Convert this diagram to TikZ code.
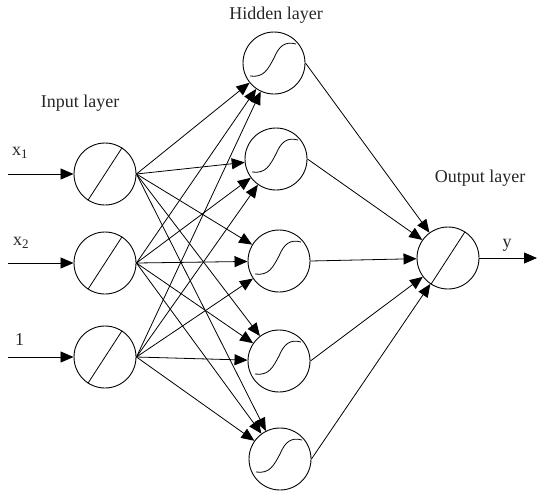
\documentclass[tikz,border=0pt]{standalone}
\usepackage{fontspec}
\setmainfont{Liberation Serif}
\usetikzlibrary{arrows.meta}
\newcommand\sigmcurve[1]{\draw[line width=0.8pt,shift={(#1.center)}] (-24,13) .. controls (-10,15) and (-6,6) .. (0,-5) .. controls (5,-17) and (11,-22) .. (22,-19);}
\newcommand\slashline[1]{\draw[line width=0.8pt] (#1.237) -- (#1.57);}
\begin{document}
\begin{tikzpicture}[x=1pt,y=-1pt,
  neuron/.style={circle,draw,line width=0.9pt,minimum size=62pt,inner sep=0pt},
  conn/.style={line width=0.8pt,-{Triangle[length=13pt,width=11pt]}},
  lbl/.style={font=\fontsize{18}{21}\selectfont,inner sep=0pt,text=black!85}]
\useasboundingbox (0,0) rectangle (538,491);
% input layer
\node[neuron] (i1) at (105,174) {};
\node[neuron] (i2) at (105,263) {};
\node[neuron] (i3) at (105,357) {};
% hidden layer
\node[neuron] (h1) at (274,63) {};
\node[neuron] (h2) at (276,159) {};
\node[neuron] (h3) at (279,261) {};
\node[neuron] (h4) at (279,361) {};
\node[neuron] (h5) at (280,459) {};
% output
\node[neuron] (o) at (448,258) {};
\slashline{i1}\slashline{i2}\slashline{i3}\slashline{o}
\sigmcurve{h1}\sigmcurve{h2}\sigmcurve{h3}\sigmcurve{h4}\sigmcurve{h5}
% connections
\foreach \i in {1,2,3}{\foreach \h in {1,...,5}{\draw[conn] (i\i.east) -- (h\h);}}
\foreach \h in {1,...,5}{\draw[conn] (h\h.east) -- (o);}
% inputs and output
\coordinate (s1) at (8,174);
\coordinate (s2) at (8,263);
\coordinate (s3) at (8,357);
\coordinate (e) at (537,258);
\draw[conn] (s1) -- (i1);
\draw[conn] (s2) -- (i2);
\draw[conn] (s3) -- (i3);
\draw[conn] (o) -- (e);
% labels
\node[lbl,anchor=base] (tin) at (80,107) {Input layer};
\node[lbl,anchor=base] (thid) at (276,19) {Hidden layer};
\node[lbl,anchor=base] (tout) at (480,182) {Output layer};
\node[lbl,anchor=base west] (lx1) at (12,155) {x\raisebox{-3pt}{\fontsize{13}{13}\selectfont 1}};
\node[lbl,anchor=base west] (lx2) at (13,245) {x\raisebox{-3pt}{\fontsize{13}{13}\selectfont 2}};
\node[lbl,anchor=base west] (lone) at (15,345) {1};
\node[lbl,anchor=base] (ly) at (507,247) {y};
\end{tikzpicture}
\end{document}
